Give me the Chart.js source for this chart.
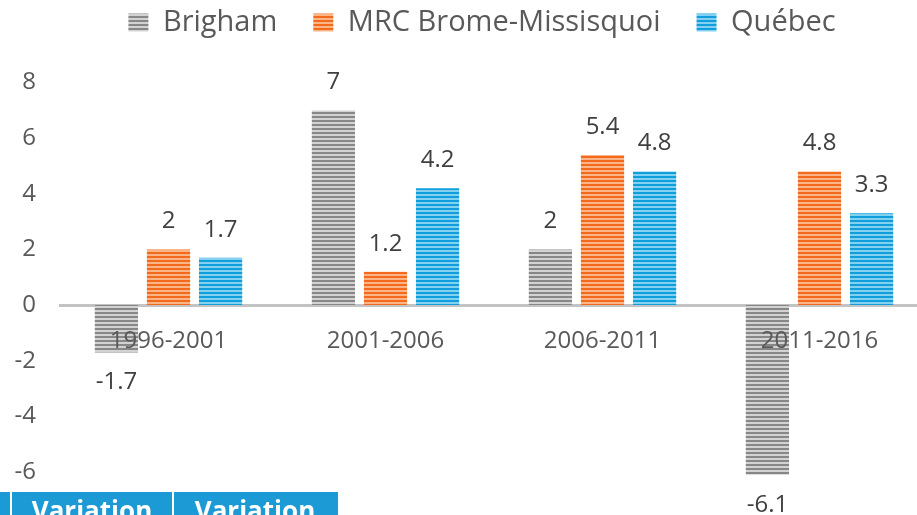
<!DOCTYPE html>
<html>
<head>
<meta charset="utf-8">
<script src="https://cdn.jsdelivr.net/npm/chart.js@4/dist/chart.umd.min.js"></script>
<style>
  html,body{margin:0;padding:0;background:#fff;overflow:hidden;width:917px;height:515px}
  #wrap{position:absolute;left:0;top:-28px;width:928px;height:594px}
  .tbl{position:absolute;left:0;top:492px;width:338px;height:30px;background:#1b9ad6;display:flex;font-family:'Open Sans',sans-serif;font-weight:700;font-size:26px;color:#fff}
  .tbl div{border-left:2px solid #fff;text-align:center;white-space:nowrap}
</style>
</head>
<body>
<div id="wrap"><canvas id="c"></canvas></div>
<div class="tbl"><div style="width:10px;border-left:none"></div><div style="width:160px">Variation</div><div style="width:162px">Variation</div></div>
<script>
const PERIODS = ['1996-2001','2001-2006','2006-2011','2011-2016'];
const BRIGHAM = [-1.7, 7, 2, -6.1];
const MRC     = [2, 1.2, 5.4, 4.8];
const QUEBEC  = [1.7, 4.2, 4.8, 3.3];
const Y_TICKS = [-6,-4,-2,0,2,4,6,8];

const stripes = (dark, light) => {
  const p = document.createElement('canvas');
  p.width = 4; p.height = 4;
  const g = p.getContext('2d');
  g.fillStyle = light; g.fillRect(0,0,4,4);
  g.fillStyle = dark;  g.fillRect(0,0,4,2);
  return g.createPattern(p,'repeat');
};

const font = "'Open Sans', sans-serif";
const tc = '#595959';

// value labels above / below each bar
const valueLabels = {
  id:'valueLabels',
  afterDatasetsDraw(chart){
    const ctx = chart.ctx;
    ctx.save();
    ctx.font = '24px ' + font;
    ctx.fillStyle = '#404040';
    ctx.textAlign = 'center';
    ctx.textBaseline = 'middle';
    chart.data.datasets.forEach((ds,i)=>{
      chart.getDatasetMeta(i).data.forEach((bar,j)=>{
        const v = ds.data[j];
        const y = v >= 0 ? bar.y - 28 : bar.y + 30;
        ctx.fillText(String(v), bar.x, y);
      });
    });
    ctx.restore();
  }
};

// legend sits a bit right of canvas centre in the original
const shiftLegend = {
  id:'shiftLegend',
  afterLayout(chart){ chart.legend.left += 18; chart.legend.right += 18; }
};

new Chart(document.getElementById('c'),{
  type:'bar',
  data:{
    labels:PERIODS,
    datasets:[
      {label:'Brigham', data:BRIGHAM, backgroundColor:stripes('#878787','#d2d2d2'), borderWidth:0},
      {label:'MRC Brome-Missisquoi', data:MRC, backgroundColor:stripes('#f36a1c','#f9b487'), borderWidth:0},
      {label:'Québec', data:QUEBEC, backgroundColor:stripes('#119fdc','#84d0f0'), borderWidth:0},
    ]
  },
  options:{
    responsive:true,
    maintainAspectRatio:false,
    animation:false,
    categoryPercentage:0.72,
    barPercentage:0.83,
    layout:{padding:0},
    plugins:{
      legend:{
        position:'top',
        labels:{font:{family:font,size:29},color:tc,boxWidth:20,boxHeight:18,padding:36}
      },
      tooltip:{enabled:false}
    },
    scales:{
      x:{
        position:{y:0},
        afterFit:s=>{ s.height = 0; },
        grid:{display:false,drawTicks:false},
        border:{display:true,color:'#c3c3c3',width:3},
        ticks:{z:1,color:tc,font:{family:font,size:24},padding:22}
      },
      y:{
        min:-8, max:9.28,
        afterBuildTicks:s=>{ s.ticks = Y_TICKS.map(v=>({value:v})); },
        afterFit:s=>{ s.width = 60; },
        grid:{display:false,drawTicks:false},
        border:{display:false},
        ticks:{color:tc,font:{family:font,size:24},padding:24}
      }
    }
  },
  plugins:[valueLabels, shiftLegend]
});
</script>
</body>
</html>
